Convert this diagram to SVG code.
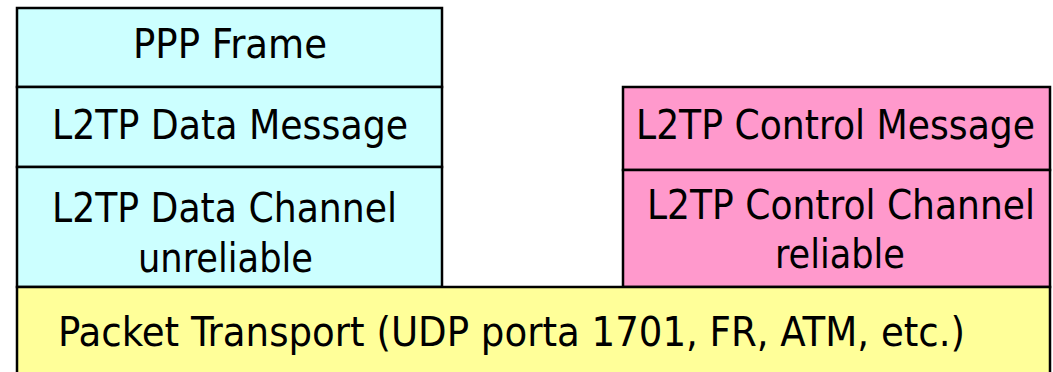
<svg xmlns="http://www.w3.org/2000/svg" width="1053" height="372" viewBox="0 0 1053 372">
  <style>
    .box { stroke: #000; stroke-width: 2.5; }
    .data { fill: #CCFFFF; }
    .ctrl { fill: #FF99CC; }
    .transport { fill: #FFFF99; }
    text { font-family: "DejaVu Sans Condensed", "DejaVu Sans", sans-serif; font-size: 41px; fill: #000; }
    .c { text-anchor: middle; }
  </style>
  <rect width="1053" height="372" fill="#fff"/>

  <!-- data plane stack -->
  <g id="ppp-frame">
    <rect class="box data" x="17" y="8" width="425" height="79"/>
    <text class="c" x="230" y="58" textLength="194" lengthAdjust="spacingAndGlyphs">PPP Frame</text>
  </g>
  <g id="data-message">
    <rect class="box data" x="17" y="87" width="425" height="80"/>
    <text class="c" x="230" y="139" textLength="356" lengthAdjust="spacingAndGlyphs">L2TP Data Message</text>
  </g>
  <g id="data-channel">
    <rect class="box data" x="17" y="167" width="425" height="120"/>
    <text class="c" x="224.5" y="222" textLength="345" lengthAdjust="spacingAndGlyphs">L2TP Data Channel</text>
    <text class="c" x="225.5" y="272" textLength="175" lengthAdjust="spacingAndGlyphs">unreliable</text>
  </g>

  <!-- control plane stack -->
  <g id="control-message">
    <rect class="box ctrl" x="623" y="87" width="427" height="83"/>
    <text class="c" x="835.5" y="139" textLength="399" lengthAdjust="spacingAndGlyphs">L2TP Control Message</text>
  </g>
  <g id="control-channel">
    <rect class="box ctrl" x="623" y="170" width="427" height="117"/>
    <text class="c" x="841" y="219" textLength="388" lengthAdjust="spacingAndGlyphs">L2TP Control Channel</text>
    <text class="c" x="840" y="268" textLength="130" lengthAdjust="spacingAndGlyphs">reliable</text>
  </g>

  <!-- shared transport -->
  <g id="packet-transport">
    <rect class="box transport" x="17" y="287" width="1033" height="100"/>
    <text x="58" y="346" textLength="907" lengthAdjust="spacingAndGlyphs">Packet Transport (UDP porta 1701, FR, ATM, etc.)</text>
  </g>

  <g id="connectors"/>
</svg>
